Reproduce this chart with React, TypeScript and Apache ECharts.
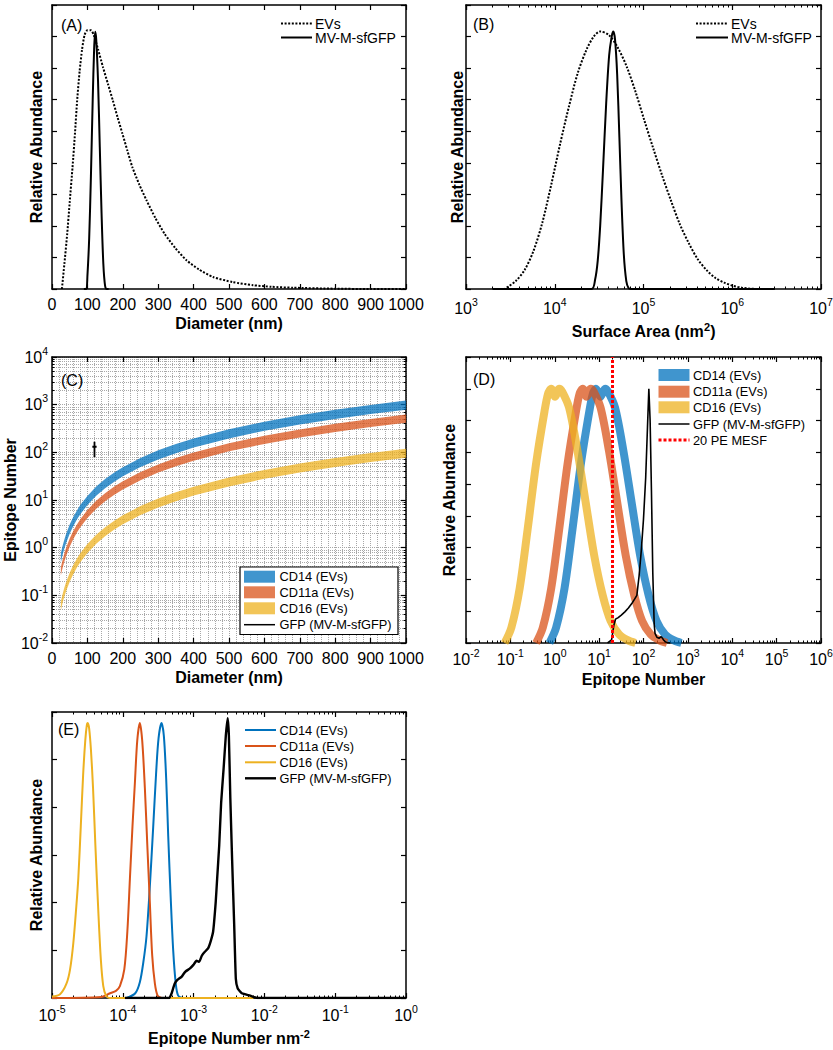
import React, { useEffect, useRef } from "react";
import * as echarts from "echarts";

const FONT = "'Liberation Sans', Arial, Helvetica, sans-serif";
const BLUE = "#0072BD";
const ORANGE = "#D95319";
const YELLOW = "#EDB120";
const GRIDGRAY = "#a8a8a8";

// ---------------- Texts ----------------
const panelLabels = ["(A)", "(B)", "(C)", "(D)", "(E)"];
const sizeLegend = ["EVs", "MV-M-sfGFP"];
const markerLegend = ["CD14 (EVs)", "CD11a (EVs)", "CD16 (EVs)", "GFP (MV-M-sfGFP)", "20 PE MESF"];
const titleAbundance = "Relative Abundance";
const titleDiameter = "Diameter (nm)";
const titleArea = "Surface Area (nm{sup|2})";
const titleEpitope = "Epitope Number";
const titleDensity = "Epitope Number nm{sup|-2}";

// ---------------- Panel A: abundance vs diameter (nm) ----------------
const aEVs: number[][] = [
  [28, 0], [35, 0.8], [43, 1.75], [50, 2.75], [58, 3.86], [65, 4.95], [71, 5.97], [78, 6.9],
  [85, 7.6], [92, 8.05], [100, 8.2], [110, 8.2], [118, 8.05], [130, 7.6], [144, 7.03],
  [158, 6.5], [172, 5.97], [185, 5.45], [199, 4.92], [213, 4.38], [227, 3.86], [247, 3.3],
  [267, 2.81], [292, 2.25], [318, 1.75], [348, 1.3], [380, 0.91], [415, 0.62], [455, 0.38],
  [510, 0.22], [568, 0.12], [620, 0.07], [681, 0.04], [800, 0.01], [900, 0], [1000, 0],
];
const aMV: number[][] = [
  [90, 0], [97, 0], [100, 0.4], [105, 1.6], [110, 3.6], [115, 6.0], [119, 7.6], [122, 8.15],
  [125, 7.9], [130, 6.6], [135, 4.5], [140, 2.4], [145, 0.8], [150, 0.1], [155, 0], [160, 0],
];

// ---------------- Panel B: abundance vs surface area (nm^2) ----------------
const bEVs: number[][] = [
  [2000, 0], [2700, 0], [2900, 0.05], [3630, 0.25], [4570, 0.6], [5750, 1.2], [7240, 2.1],
  [9120, 3.3], [11500, 4.6], [14500, 5.8], [18200, 6.85], [22900, 7.6], [27500, 8.0],
  [32400, 8.16], [40700, 8.05], [51300, 7.65], [64600, 7.05], [81300, 6.25], [102000, 5.35],
  [129000, 4.45], [162000, 3.6], [204000, 2.8], [257000, 2.05], [324000, 1.45], [407000, 0.95],
  [513000, 0.6], [646000, 0.35], [813000, 0.2], [1020000, 0.1], [1290000, 0.04],
  [1620000, 0.01], [2000000, 0], [3000000, 0],
];
const bMV: number[][] = [
  [2000, 0], [26000, 0], [28500, 0.3], [30500, 0.9], [32500, 2.0], [35000, 3.8], [38000, 5.9],
  [41000, 7.4], [43800, 8.0], [45700, 8.16], [47800, 7.9], [50500, 6.8], [53500, 4.8],
  [56500, 2.8], [60000, 1.1], [64000, 0.25], [68000, 0.02], [72000, 0], [3000000, 0],
];

// ---------------- Panel C: epitope number ranges vs diameter ----------------
const cDiam = [25, 30, 35, 40, 50, 60, 70, 80, 100, 125, 150, 175, 200, 250, 300, 350, 400, 500, 600, 700, 800, 900, 1000];
const cCD14Low = [0.49, 0.71, 0.96, 1.26, 1.96, 2.83, 3.85, 5.02, 7.85, 12.3, 17.7, 24.0, 31.4, 49.1, 70.7, 96.2, 126, 196, 283, 385, 502, 636, 785];
const cCD14High = [0.76, 1.1, 1.49, 1.95, 3.05, 4.39, 5.98, 7.81, 12.2, 19.1, 27.5, 37.4, 48.8, 76.3, 110, 149, 195, 305, 439, 598, 781, 988, 1220];
const cCD11aLow = [0.26, 0.38, 0.51, 0.67, 1.05, 1.5, 2.05, 2.68, 4.18, 6.53, 9.41, 12.8, 16.7, 26.1, 37.6, 51.2, 66.9, 105, 150, 205, 268, 339, 418];
const cCD11aHigh = [0.39, 0.56, 0.76, 0.99, 1.55, 2.23, 3.03, 3.96, 6.19, 9.67, 13.9, 19.0, 24.8, 38.7, 55.7, 75.8, 99.0, 155, 223, 303, 396, 501, 619];
const cCD16Low = [0.048, 0.07, 0.095, 0.124, 0.193, 0.278, 0.379, 0.495, 0.773, 1.21, 1.74, 2.37, 3.09, 4.83, 6.96, 9.47, 12.4, 19.3, 27.8, 37.9, 49.5, 62.6, 77.3];
const cCD16High = [0.074, 0.107, 0.146, 0.19, 0.298, 0.428, 0.583, 0.762, 1.19, 1.86, 2.68, 3.64, 4.76, 7.44, 10.7, 14.6, 19.0, 29.8, 42.8, 58.3, 76.2, 96.4, 119];
const cGFPDiam = 120;
const cGFPRange = [79, 167];
const cGFPMean = 131;

// ---------------- Panel D: abundance vs epitope number ----------------
// each band: one curve with two close maxima (low / high epitope density)
const dHeights = [0, 0.48, 1.72, 3.58, 5.65, 7.3, 7.85, 8.0, 7.75, 8.0, 7.9, 7.4, 6.06, 4.4, 2.75, 1.51, 0.69, 0.27, 0.09, 0];
const dCD14X = [0.759, 1.07, 1.66, 2.51, 3.89, 6.03, 7.24, 8.51, 10.7, 13.6, 16.0, 22.9, 35.1, 54.3, 84.1, 130, 197, 305, 473, 716];
const dCD11aX = [0.38, 0.537, 0.832, 1.26, 1.95, 3.02, 3.63, 4.27, 5.25, 6.46, 7.59, 10.8, 16.6, 25.7, 39.8, 61.7, 93.3, 145, 224, 339];
const dCD16X = [0.0741, 0.105, 0.162, 0.245, 0.38, 0.589, 0.708, 0.832, 1.023, 1.26, 1.48, 2.11, 3.24, 5.01, 7.76, 12.0, 18.2, 28.2, 43.7, 66.1];
const dGFP: number[][] = [
  [15.5, 0], [19.1, 0.1], [21.4, 0.55], [23.4, 0.75], [26.9, 0.8], [31.6, 0.88], [38, 0.98],
  [45.7, 1.1], [55, 1.25], [63, 1.38], [70.8, 1.5], [79.4, 2.1], [89, 2.9], [100, 3.9],
  [112, 5.2], [123, 6.8], [132, 8.0], [141, 7.0], [151, 4.8], [162, 2.2], [174, 0.6],
  [182, 0.3], [200, 0.18], [224, 0.15], [251, 0.2], [282, 0.1], [316, 0.03], [398, 0],
];
const dMESF = 20;

// ---------------- Panel E: abundance vs epitope density (nm^-2) ----------------
const eCD14: number[][] = [
  [1.13e-4, 0], [1.5e-4, 0.1], [1.74e-4, 0.33], [1.95e-4, 0.75], [2.16e-4, 1.29], [2.4e-4, 2.3],
  [2.69e-4, 3.6], [2.95e-4, 4.7], [3.2e-4, 5.45], [3.52e-4, 5.77], [3.8e-4, 5.5], [4.1e-4, 4.6],
  [4.38e-4, 3.4], [4.75e-4, 2.1], [5.15e-4, 1.0], [5.6e-4, 0.3], [6.05e-4, 0.05], [7e-4, 0],
];
const eCD11a: number[][] = [
  [1e-5, 0], [5e-5, 0.02], [6.6e-5, 0.1], [8e-5, 0.15], [9.1e-5, 0.25], [1.05e-4, 0.6],
  [1.16e-4, 1.4], [1.26e-4, 2.5], [1.37e-4, 3.6], [1.48e-4, 4.5], [1.6e-4, 5.4], [1.74e-4, 5.77],
  [1.88e-4, 5.4], [2.05e-4, 4.4], [2.22e-4, 3.2], [2.41e-4, 2.0], [2.6e-4, 0.9], [2.84e-4, 0.3],
  [3.1e-4, 0.05], [3.5e-4, 0],
];
const eCD16: number[][] = [
  [1e-5, 0.03], [1.3e-5, 0.08], [1.6e-5, 0.3], [1.8e-5, 0.6], [2.0e-5, 1.15], [2.2e-5, 1.9],
  [2.35e-5, 2.5], [2.55e-5, 3.6], [2.75e-5, 4.67], [2.95e-5, 5.4], [3.1e-5, 5.72], [3.2e-5, 5.77],
  [3.35e-5, 5.65], [3.55e-5, 5.2], [3.8e-5, 4.4], [4.1e-5, 3.2], [4.5e-5, 1.85], [4.9e-5, 0.8],
  [5.3e-5, 0.25], [5.8e-5, 0.05], [6.5e-5, 0], [7e-3, 0],
];
const eGFP: number[][] = [
  [1.07e-4, 0], [4.5e-4, 0], [4.9e-4, 0.1], [5.4e-4, 0.3], [5.9e-4, 0.38], [6.8e-4, 0.45],
  [7.6e-4, 0.55], [8.9e-4, 0.62], [1.0e-3, 0.7], [1.1e-3, 0.78], [1.2e-3, 0.76], [1.3e-3, 0.88],
  [1.4e-3, 0.95], [1.6e-3, 1.04], [1.75e-3, 1.2], [1.89e-3, 1.4], [2.05e-3, 2.0], [2.15e-3, 2.5],
  [2.3e-3, 3.2], [2.45e-3, 4.1], [2.65e-3, 4.8], [2.85e-3, 5.5], [3.03e-3, 5.87], [3.15e-3, 5.5],
  [3.3e-3, 4.2], [3.5e-3, 2.9], [3.75e-3, 1.5], [3.95e-3, 0.4], [4.2e-3, 0.2], [4.8e-3, 0.1],
  [6.3e-3, 0.05], [8e-3, 0], [1, 0],
];

// ---------------- Layout ----------------
const GRIDS = [
  { left: 52, top: 5, width: 354, height: 284 },
  { left: 466, top: 5, width: 355, height: 284 },
  { left: 52, top: 357, width: 354, height: 286 },
  { left: 466, top: 357, width: 355, height: 286 },
  { left: 52, top: 712, width: 354, height: 286 },
];

const AXIS_LINE = { show: true, onZero: false, lineStyle: { color: "#000", width: 1.5 } };
const AXIS_TICK = { show: true, inside: true, length: 5, lineStyle: { color: "#000", width: 1.2 } };
const RICH = {
  b: { fontSize: 16, fontFamily: FONT, color: "#000", lineHeight: 24 },
  s: { fontSize: 10.5, fontFamily: FONT, color: "#000", verticalAlign: "top", lineHeight: 11 },
};
const NAME_STYLE = {
  fontSize: 16,
  fontWeight: "bold",
  fontFamily: FONT,
  color: "#000",
  lineHeight: 20,
  rich: { sup: { fontSize: 11, fontWeight: "bold", fontFamily: FONT, color: "#000", verticalAlign: "top", lineHeight: 10 } },
};
const pow10 = (v: number) => `{b|10}{s|${Math.round(Math.log10(v))}}`;

type Spec = {
  scale: any;
  labels: "plain" | "pow" | "none";
  name?: string;
  nameGap?: number;
  labelMargin?: number;
  minor?: boolean;
  minorSplit?: number;
  gridLines?: boolean;
};

function axisPair(dim: "x" | "y", gridIndex: number, spec: Spec) {
  const common: any = {
    gridIndex,
    ...spec.scale,
    axisLine: AXIS_LINE,
    axisTick: AXIS_TICK,
    minorTick: { show: !!spec.minor, splitNumber: spec.minorSplit ?? 9, length: 2.5, lineStyle: { color: "#000", width: 1 } },
    splitLine: { show: false },
    minorSplitLine: { show: false },
    nameMoveOverlap: false,
    silent: true,
  };
  let axisLabel: any = { show: false };
  if (spec.labels === "plain") {
    axisLabel = {
      show: true, interval: 0, margin: spec.labelMargin ?? 7, fontSize: 16, fontFamily: FONT, color: "#000",
      formatter: (v: number) => String(v),
    };
  } else if (spec.labels === "pow") {
    axisLabel = { show: true, interval: 0, margin: spec.labelMargin ?? 5, formatter: pow10, rich: RICH };
  }
  const main: any = {
    ...common,
    position: dim === "x" ? "bottom" : "left",
    axisLabel,
    name: spec.name ?? "",
    nameLocation: "middle",
    nameGap: spec.nameGap ?? 10,
    nameTextStyle: NAME_STYLE,
  };
  if (spec.gridLines) {
    main.splitLine = { show: true, lineStyle: { color: GRIDGRAY, type: "dotted", width: 1 } };
    main.minorSplitLine = { show: true, lineStyle: { color: GRIDGRAY, type: "dotted", width: 1 } };
  }
  const mirror: any = { ...common, position: dim === "x" ? "top" : "right", axisLabel: { show: false }, name: "" };
  return [main, mirror];
}

function lineSeries(name: string, xi: number, data: any[], color: string, width: number, extra: any = {}) {
  return {
    type: "line",
    name,
    xAxisIndex: xi,
    yAxisIndex: xi,
    data,
    symbol: "none",
    silent: true,
    connectNulls: false,
    lineStyle: { color, width, ...(extra.lineStyle || {}) },
    itemStyle: { color },
    ...extra.rest,
  };
}

function dBand(name: string, xs: number[], color: string) {
  return {
    type: "line",
    name,
    xAxisIndex: 6,
    yAxisIndex: 6,
    data: xs.map((x, i) => [x, dHeights[i]]),
    symbol: "none",
    silent: true,
    smooth: 0.3,
    lineStyle: { color, width: 8, opacity: 0.75, cap: "butt", join: "round" },
    itemStyle: { color },
  };
}

function cBand(name: string, low: number[], high: number[], color: string) {
  return {
    type: "custom",
    name,
    coordinateSystem: "cartesian2d",
    xAxisIndex: 4,
    yAxisIndex: 4,
    silent: true,
    data: cDiam.map((d, i) => [d, low[i], high[i]]),
    encode: { x: 0, y: [1, 2] },
    renderItem: (params: any, api: any) => {
      if (params.dataIndex !== 0) return null;
      const upper = cDiam.map((d, i) => api.coord([d, high[i]]));
      const lower = cDiam.map((d, i) => api.coord([d, low[i]])).reverse();
      return {
        type: "polygon",
        shape: { points: upper.concat(lower), smooth: 0 },
        style: { fill: color, opacity: 0.75 },
      };
    },
  };
}

function textEl(text: string, x: number, y: number, size: number, extra: any = {}) {
  return {
    type: "text",
    x,
    y,
    z: 100,
    silent: true,
    style: {
      text,
      fill: "#000",
      fontSize: size,
      fontFamily: FONT,
      align: "left",
      verticalAlign: "middle",
      textAlign: "left",
      textVerticalAlign: "middle",
      ...extra,
    },
  };
}
function lineEl(x1: number, y1: number, x2: number, y2: number, stroke: string, lineWidth: number, lineDash?: number[]) {
  return {
    type: "line",
    z: 100,
    silent: true,
    shape: { x1, y1, x2, y2 },
    style: { stroke, lineWidth, lineDash: lineDash || null },
  };
}
function rectEl(x: number, y: number, w: number, h: number, style: any, z = 99) {
  return { type: "rect", z, silent: true, shape: { x, y, width: w, height: h }, style };
}

function buildOption() {
  const xAxes: any[] = [];
  const yAxes: any[] = [];
  const abundanceY = { type: "value", min: 0, max: 9, interval: 1 };

  // A
  xAxes.push(...axisPair("x", 0, { scale: { type: "value", min: 0, max: 1000, interval: 100 }, labels: "plain", name: titleDiameter, nameGap: 24 }));
  yAxes.push(...axisPair("y", 0, { scale: abundanceY, labels: "none", name: titleAbundance, nameGap: 5.5 }));
  // B
  xAxes.push(...axisPair("x", 1, { scale: { type: "log", logBase: 10, min: 1e3, max: 1e7 }, labels: "pow", name: titleArea, nameGap: 32, minor: true, labelMargin: 7.5 }));
  yAxes.push(...axisPair("y", 1, { scale: abundanceY, labels: "none", name: titleAbundance, nameGap: -1.5 }));
  // C
  xAxes.push(...axisPair("x", 2, { scale: { type: "value", min: 0, max: 1000, interval: 100 }, labels: "plain", name: titleDiameter, nameGap: 24.5, minor: false, minorSplit: 5, gridLines: true }));
  yAxes.push(...axisPair("y", 2, { scale: { type: "log", logBase: 10, min: 1e-2, max: 1e4 }, labels: "pow", name: titleEpitope, nameGap: 32, minor: true, labelMargin: 4, gridLines: true }));
  // D
  xAxes.push(...axisPair("x", 3, { scale: { type: "log", logBase: 10, min: 1e-2, max: 1e6 }, labels: "pow", name: titleEpitope, nameGap: 26, minor: true, labelMargin: 4 }));
  yAxes.push(...axisPair("y", 3, { scale: abundanceY, labels: "none", name: titleAbundance, nameGap: 7 }));
  // E
  xAxes.push(...axisPair("x", 4, { scale: { type: "log", logBase: 10, min: 1e-5, max: 1 }, labels: "pow", name: titleDensity, nameGap: 30, minor: true, labelMargin: 5.5 }));
  yAxes.push(...axisPair("y", 4, { scale: { type: "value", min: 0, max: 6, interval: 1 }, labels: "none", name: titleAbundance, nameGap: 6 }));

  const dotted = [2, 1.6];
  const series: any[] = [
    // A
    lineSeries(sizeLegend[0], 0, aEVs, "#000", 2, { lineStyle: { type: dotted }, rest: { smooth: 0.2 } }),
    lineSeries(sizeLegend[1], 0, aMV, "#000", 2, { rest: { smooth: 0.3 } }),
    // B
    lineSeries(sizeLegend[0], 2, bEVs, "#000", 2, { lineStyle: { type: dotted }, rest: { smooth: 0.3 } }),
    lineSeries(sizeLegend[1], 2, bMV, "#000", 2, { rest: { smooth: 0.3 } }),
    // C
    cBand(markerLegend[0], cCD14Low, cCD14High, BLUE),
    cBand(markerLegend[1], cCD11aLow, cCD11aHigh, ORANGE),
    cBand(markerLegend[2], cCD16Low, cCD16High, YELLOW),
    lineSeries(markerLegend[3], 4, [
      [cGFPDiam, cGFPRange[0]], [cGFPDiam, cGFPRange[1]], ["-", "-"],
      [cGFPDiam - 6, cGFPMean], [cGFPDiam + 6, cGFPMean],
    ], "#000", 1.8),
    // D
    dBand(markerLegend[0], dCD14X, BLUE),
    dBand(markerLegend[1], dCD11aX, ORANGE),
    dBand(markerLegend[2], dCD16X, YELLOW),
    lineSeries(markerLegend[3], 6, dGFP, "#000", 1.6),
    lineSeries(markerLegend[4], 6, [[dMESF, 0], [dMESF, 9]], "#FF0000", 3, { lineStyle: { type: [3, 2] }, rest: { z: 5 } }),
    // E
    lineSeries(markerLegend[0], 8, eCD14, BLUE, 2, { rest: { smooth: 0.3 } }),
    lineSeries(markerLegend[1], 8, eCD11a, ORANGE, 2, { rest: { smooth: 0.3 } }),
    lineSeries(markerLegend[2], 8, eCD16, YELLOW, 2, { rest: { smooth: 0.3 } }),
    lineSeries(markerLegend[3], 8, eGFP, "#000", 2.4, { rest: { smooth: 0.15 } }),
  ];

  const g: any[] = [];
  // panel labels
  g.push(textEl(panelLabels[0], 61, 25, 16));
  g.push(textEl(panelLabels[1], 473, 24, 16));
  g.push(textEl(panelLabels[2], 61, 380, 16));
  g.push(textEl(panelLabels[3], 473, 379, 16));
  g.push(textEl(panelLabels[4], 58, 729, 16));
  // A & B legends
  const abRows = [23.5, 37.5];
  [[281, 312, 315], [696, 728, 731]].forEach(([x1, x2, tx]) => {
    g.push(lineEl(x1, abRows[0], x2, abRows[0], "#000", 2, dotted));
    g.push(textEl(sizeLegend[0], tx, abRows[0], 14));
    g.push(lineEl(x1, abRows[1], x2, abRows[1], "#000", 2));
    g.push(textEl(sizeLegend[1], tx, abRows[1], 14));
  });
  // C legend (boxed)
  g.push(rectEl(240, 567, 158, 67.5, { fill: "#fff", stroke: "#000", lineWidth: 1.2 }));
  const cRows = [576.7, 592.3, 608.3, 624.7];
  [BLUE, ORANGE, YELLOW].forEach((c, i) => g.push(rectEl(244, cRows[i] - 6, 31, 12, { fill: c, opacity: 0.75 }, 100)));
  g.push(lineEl(244, cRows[3], 275, cRows[3], "#000", 1.5));
  cRows.forEach((y, i) => g.push(textEl(markerLegend[i], 279.5, y, 12.8)));
  // D legend
  const dRows = [375, 391.7, 407.3, 424, 440];
  [BLUE, ORANGE, YELLOW].forEach((c, i) => g.push(rectEl(658.5, dRows[i] - 6, 31, 12, { fill: c, opacity: 0.75 }, 100)));
  g.push(lineEl(658.5, dRows[3], 689.5, dRows[3], "#000", 1.5));
  g.push(lineEl(658.5, dRows[4], 689.5, dRows[4], "#FF0000", 3, [3, 2]));
  dRows.forEach((y, i) => g.push(textEl(markerLegend[i], 693, y, 12.8)));
  // E legend
  const eRows = [730, 746, 762.3, 778.3];
  [BLUE, ORANGE, YELLOW, "#000"].forEach((c, i) => g.push(lineEl(245, eRows[i], 276, eRows[i], c, i === 3 ? 2.4 : 2)));
  eRows.forEach((y, i) => g.push(textEl(markerLegend[i], 279.5, y, 12.8)));

  return {
    animation: false,
    backgroundColor: "#fff",
    textStyle: { fontFamily: FONT },
    grid: GRIDS.map((b) => ({ ...b, show: false, containLabel: false, outerBoundsMode: "none" })),
    xAxis: xAxes,
    yAxis: yAxes,
    series,
    graphic: { elements: g },
  };
}

export default function App() {
  const ref = useRef<HTMLDivElement>(null);
  useEffect(() => {
    if (!ref.current) return;
    const chart = echarts.init(ref.current, null, { renderer: "svg" });
    chart.setOption(buildOption() as any);
    return () => chart.dispose();
  }, []);
  return (
    <div
      ref={ref}
      style={{ position: "absolute", left: 0, top: 0, width: 833, height: 1050, background: "#fff" }}
    />
  );
}
